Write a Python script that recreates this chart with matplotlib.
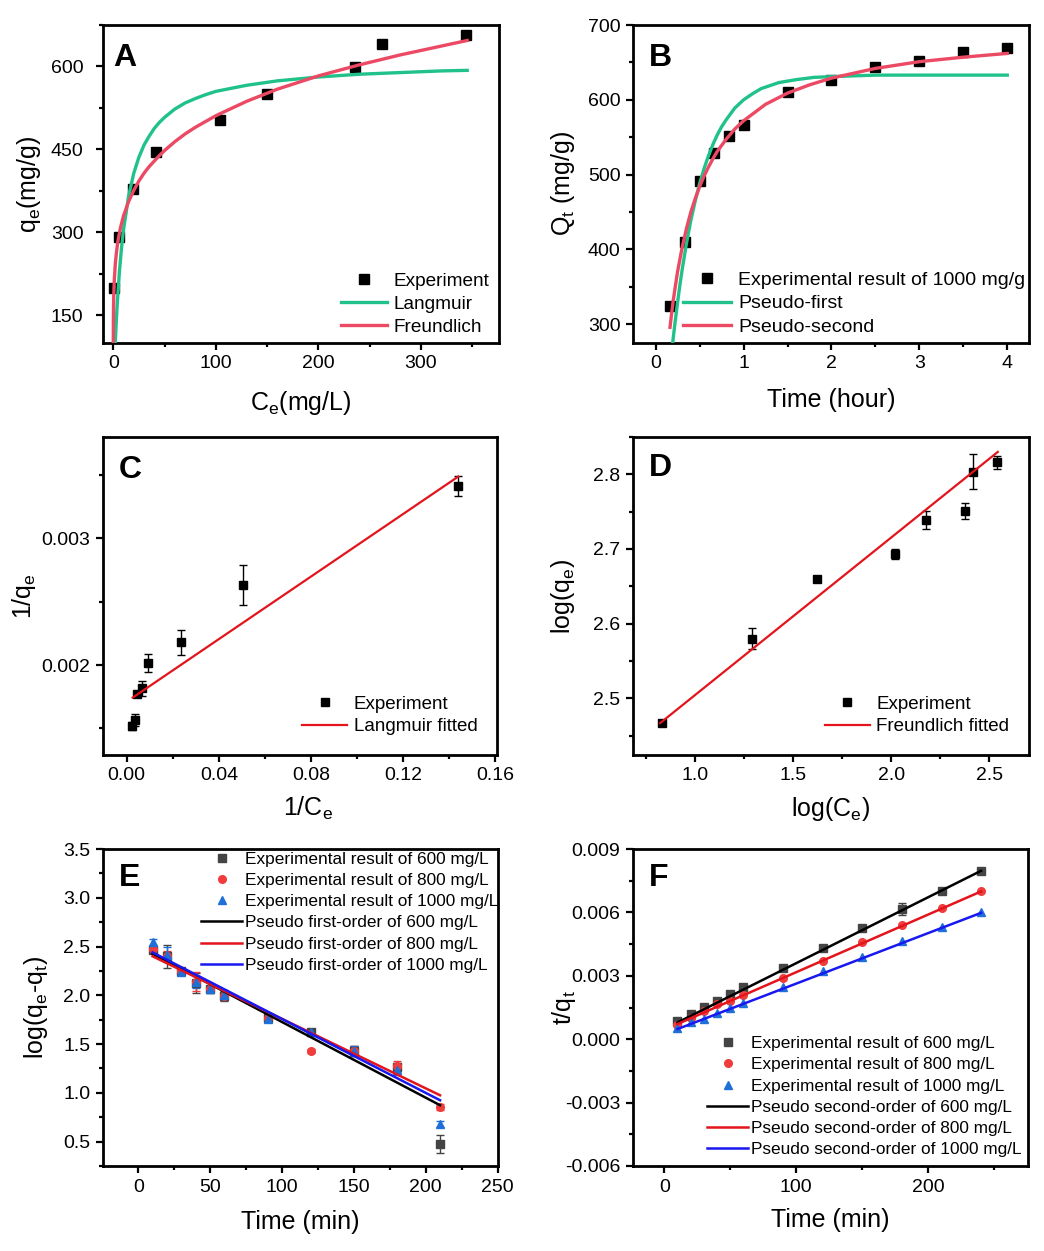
import matplotlib
matplotlib.use('Agg')
import matplotlib.pyplot as plt
from matplotlib.ticker import MultipleLocator, FormatStrFormatter

plt.rcParams['font.family'] = ['Liberation Sans', 'DejaVu Sans']
plt.rcParams['mathtext.fontset'] = 'custom'
plt.rcParams['mathtext.rm'] = 'Liberation Sans'
plt.rcParams['mathtext.it'] = 'Liberation Sans'

# ---- A: isotherm ----
A_ce = [0.5, 6, 19, 42, 104, 150, 236, 262, 344]
A_qe = [199, 292, 379, 446, 503, 551, 599, 640, 657]
A_freund_ce = [0.02, 0.1, 0.3, 0.5, 1, 2, 3, 4, 5, 7, 10, 15, 20, 25, 30, 35,
               45, 50, 60, 70, 80, 100, 130, 160, 200, 240, 280, 320, 345]
A_freund = [101, 138, 169, 187, 213, 243, 262, 277, 289, 308, 330, 356, 376,
            393, 407, 419, 439, 448, 464, 478, 490, 511, 537, 559, 583, 603,
            621, 637, 647]
A_lang_ce = [1.5, 2, 3, 4, 6, 8, 10, 15, 20, 25, 30, 35, 40, 45, 50, 60, 70,
             80, 90, 100, 130, 160, 200, 240, 280, 320, 345]
A_lang = [80, 102, 141, 174, 229, 271, 305, 366, 407, 436, 458, 474, 488, 499,
          508, 523, 534, 542, 549, 555, 566, 574, 581, 586, 589, 592, 593]

# ---- B: kinetics ----
B_t = [0.167, 0.333, 0.5, 0.667, 0.833, 1.0, 1.5, 2.0, 2.5, 3.0, 3.5, 4.0]
B_q = [324, 410, 491, 529, 551, 567, 610, 626, 644, 652, 664, 669]
B_first_t = [0.18, 0.2, 0.22, 0.25, 0.275, 0.3, 0.325, 0.35, 0.4, 0.45, 0.5,
             0.55, 0.6, 0.65, 0.7, 0.75, 0.8, 0.9, 1.0, 1.1, 1.2, 1.3, 1.4,
             1.6, 1.8, 2.0, 2.5, 3.0, 3.5, 4.0]
B_first = [261, 282, 302, 330, 352, 372, 390, 408, 439, 465, 488, 508, 525,
           540, 553, 564, 573, 589, 600, 608, 615, 619, 623, 627, 630, 631,
           633, 633, 633, 633]
B_second_t = [0.163, 0.18, 0.2, 0.22, 0.25, 0.3, 0.35, 0.4, 0.45, 0.5, 0.55,
              0.6, 0.65, 0.7, 0.75, 0.8, 0.9, 1.0, 1.25, 1.5, 1.75, 2.0, 2.5,
              3.0, 3.5, 4.0]
B_second = [296, 313, 332, 348, 371, 402, 428, 450, 468, 484, 498, 510, 521,
            531, 539, 547, 561, 572, 594, 609, 620, 629, 642, 651, 657, 662]

# ---- C: Langmuir linear ----
C_x = [0.0024, 0.0036, 0.0043, 0.0065, 0.0094, 0.0237, 0.0506, 0.144]
C_y = [0.00152, 0.001567, 0.001769, 0.001817, 0.002018, 0.002179, 0.00263, 0.003417]
C_err = [3.4e-5, 4.7e-5, 0, 5.8e-5, 7.1e-5, 1.0e-4, 1.57e-4, 7.9e-5]
C_fit_x = [0.0026, 0.144]
C_fit_y = [0.001743, 0.003488]

# ---- D: Freundlich linear ----
D_x = [0.833, 1.292, 1.62, 2.019, 2.177, 2.376, 2.418, 2.538]
D_y = [2.4667, 2.5795, 2.66, 2.6933, 2.739, 2.751, 2.8036, 2.816]
D_err = [0, 0.014, 0, 0.0067, 0.012, 0.0107, 0.0233, 0.009]
D_fit_x = [0.822, 2.543]
D_fit_y = [2.4667, 2.830]

# ---- E: pseudo first-order ----
E_t = [10, 20, 30, 40, 50, 60, 90, 120, 150, 180, 210]
E_600 = [2.467, 2.40, 2.247, 2.128, 2.06, 1.99, 1.77, 1.62, 1.43, 1.26, 0.477]
E_800 = [2.477, 2.40, 2.25, 2.14, 2.06, 1.99, 1.77, 1.43, 1.43, 1.28, 0.856]
E_1000 = [2.545, 2.417, 2.24, 2.14, 2.06, 2.0, 1.76, 1.62, 1.43, 1.23, 0.68]
E_600_err = [0.03, 0.12, 0.03, 0.10, 0.04, 0.05, 0.03, 0.03, 0.05, 0.05, 0.09]
E_800_err = [0.03, 0.05, 0.03, 0.10, 0.03, 0.04, 0.03, 0.02, 0.05, 0.05, 0.03]
E_1000_err = [0.03, 0.08, 0.03, 0.06, 0.03, 0.05, 0.03, 0.03, 0.05, 0.05, 0.03]
E_fit_t = [10, 210]
E_fit_600 = [2.425, 0.873]
E_fit_800 = [2.40, 0.975]
E_fit_1000 = [2.44, 0.924]

# ---- F: pseudo second-order ----
F_t = [10, 20, 30, 40, 50, 60, 90, 120, 150, 180, 210, 240]
F_600 = [0.000867, 0.001184, 0.001545, 0.001814, 0.002132, 0.002492, 0.003363,
         0.004311, 0.005258, 0.006158, 0.007025, 0.007973]
F_800 = [0.000677, 0.001023, 0.00134, 0.001658, 0.001814, 0.002099, 0.002919,
         0.003678, 0.004576, 0.0054, 0.00619, 0.006993]
F_1000 = [0.000521, 0.00082, 0.000978, 0.00126, 0.001497, 0.001734, 0.002478,
          0.003236, 0.003899, 0.004657, 0.00532, 0.00603]
F_600_err = [0, 0, 0, 0, 0, 0, 0, 0, 0, 0.00027, 0, 0]
F_fit_t = [10, 240]
F_fit_600 = [0.00079, 0.00797]
F_fit_800 = [0.000717, 0.006993]
F_fit_1000 = [0.00048, 0.00598]

GREEN = '#20c28a'
PINK = '#ec4a64'
RED = '#e3141c'
BLUE = '#1818f0'

W, H = 1044, 1251
fig = plt.figure(figsize=(W / 100, H / 100), dpi=100)


def make_axes(l, t, r, b):
    return fig.add_axes([l / W, 1 - b / H, (r - l) / W, (b - t) / H])


def style(ax, letter, lx=0.04, ly=0.945, ypad=4):
    for s in ax.spines.values():
        s.set_linewidth(2.0)
    ax.tick_params(which='both', direction='out', width=1.6, labelsize=14,
                   top=False, right=False)
    ax.tick_params(which='major', length=5)
    ax.tick_params(which='minor', length=3)
    ax.tick_params(axis='y', pad=ypad)
    ax.tick_params(axis='x', pad=4)
    ax.text(lx, ly, letter, transform=ax.transAxes, fontsize=23,
            fontweight='bold', va='top', ha='left')


def legend(ax, handles, labels, fs, anchor, hl=2.4):
    ax.legend(handles, labels, frameon=False, fontsize=fs, loc='lower right',
              bbox_to_anchor=anchor, handlelength=hl, handletextpad=0.35,
              labelspacing=0.3, borderaxespad=0.0, borderpad=0.2, numpoints=1)


# A
ax = make_axes(103, 25, 499, 343)
h0, = ax.plot(A_ce, A_qe, 's', color='black', ms=7.5, zorder=2)
h1, = ax.plot(A_lang_ce, A_lang, color=GREEN, lw=2.4, zorder=3)
h2, = ax.plot(A_freund_ce, A_freund, color=PINK, lw=2.4, zorder=4)
ax.set_xlim(-10, 376)
ax.set_ylim(100, 675)
ax.xaxis.set_major_locator(MultipleLocator(100))
ax.xaxis.set_minor_locator(MultipleLocator(50))
ax.yaxis.set_major_locator(MultipleLocator(150))
ax.yaxis.set_minor_locator(MultipleLocator(75))
style(ax, 'A', lx=0.027, ly=0.943, ypad=9)
ax.set_xlabel(r'C$_\mathrm{e}$(mg/L)', fontsize=18)
ax.set_ylabel(r'q$_\mathrm{e}$(mg/g)', fontsize=18)
ax.xaxis.set_label_coords(0.5, -0.145)
ax.yaxis.set_label_coords(-0.152, 0.5)
legend(ax, [h0, h1, h2], ['Experiment', 'Langmuir', 'Freundlich'], 13.7, (0.985, 0.01))

# B
ax = make_axes(633, 25, 1029, 343)
h0, = ax.plot(B_t, B_q, 's', color='black', ms=7.5, zorder=2)
h1, = ax.plot(B_first_t, B_first, color=GREEN, lw=2.4, zorder=3)
h2, = ax.plot(B_second_t, B_second, color=PINK, lw=2.4, zorder=4)
ax.set_xlim(-0.258, 4.247)
ax.set_ylim(275, 700)
ax.xaxis.set_major_locator(MultipleLocator(1))
ax.xaxis.set_minor_locator(MultipleLocator(0.5))
ax.yaxis.set_major_locator(MultipleLocator(100))
ax.yaxis.set_minor_locator(MultipleLocator(50))
style(ax, 'B', ly=0.943)
ax.set_xlabel('Time (hour)', fontsize=18)
ax.set_ylabel(r'Q$_\mathrm{t}$ (mg/g)', fontsize=18)
ax.xaxis.set_label_coords(0.5, -0.14)
ax.yaxis.set_label_coords(-0.141, 0.5)
legend(ax, [h0, h1, h2], ['Experimental result of 1000 mg/g', 'Pseudo-first',
                          'Pseudo-second'], 14, (1.0, 0.01), hl=2.5)

# C
ax = make_axes(103, 437, 497, 755)
ax.errorbar(C_x, C_y, yerr=C_err, fmt='none', ecolor='black', elinewidth=1,
            capsize=3, capthick=1, zorder=1)
h0, = ax.plot(C_x, C_y, 's', color='black', ms=6, zorder=2)
h1, = ax.plot(C_fit_x, C_fit_y, color=RED, lw=1.6, zorder=3)
ax.set_xlim(-0.0103, 0.1608)
ax.set_ylim(0.00129, 0.0038)
ax.xaxis.set_major_locator(MultipleLocator(0.04))
ax.xaxis.set_minor_locator(MultipleLocator(0.02))
ax.yaxis.set_major_locator(MultipleLocator(0.001))
ax.yaxis.set_minor_locator(MultipleLocator(0.0005))
ax.xaxis.set_major_formatter(FormatStrFormatter('%.2f'))
ax.yaxis.set_major_formatter(FormatStrFormatter('%.3f'))
style(ax, 'C', ly=0.943)
ax.set_xlabel(r'1/C$_\mathrm{e}$', fontsize=18)
ax.set_ylabel(r'1/q$_\mathrm{e}$', fontsize=18)
ax.xaxis.set_label_coords(0.52, -0.125)
ax.yaxis.set_label_coords(-0.164, 0.5)
legend(ax, [h0, h1], ['Experiment', 'Langmuir fitted'], 13.5, (0.96, 0.05))

# D
ax = make_axes(633, 437, 1029, 755)
ax.errorbar(D_x, D_y, yerr=D_err, fmt='none', ecolor='black', elinewidth=1,
            capsize=3, capthick=1, zorder=1)
h0, = ax.plot(D_x, D_y, 's', color='black', ms=6, zorder=2)
h1, = ax.plot(D_fit_x, D_fit_y, color=RED, lw=1.6, zorder=3)
ax.set_xlim(0.684, 2.702)
ax.set_ylim(2.424, 2.85)
ax.xaxis.set_major_locator(MultipleLocator(0.5))
ax.xaxis.set_minor_locator(MultipleLocator(0.25))
ax.yaxis.set_major_locator(MultipleLocator(0.1))
ax.yaxis.set_minor_locator(MultipleLocator(0.05))
style(ax, 'D', ly=0.95)
ax.set_xlabel(r'log(C$_\mathrm{e}$)', fontsize=18)
ax.set_ylabel(r'log(q$_\mathrm{e}$)', fontsize=18)
ax.xaxis.set_label_coords(0.5, -0.125)
ax.yaxis.set_label_coords(-0.141, 0.5)
legend(ax, [h0, h1], ['Experiment', 'Freundlich fitted'], 13.5, (0.96, 0.05))

# E
ax = make_axes(103, 849, 498, 1166)
mk = []
for ys, err, m, c in [(E_600, E_600_err, 's', '#444444'),
                      (E_800, E_800_err, 'o', '#f03c3c'),
                      (E_1000, E_1000_err, '^', '#1f6fd8')]:
    ax.errorbar(E_t, ys, yerr=err, fmt='none', ecolor=c, elinewidth=1,
                capsize=3, capthick=1, zorder=1)
    h, = ax.plot(E_t, ys, m, color=c, ms=5.5, zorder=2)
    mk.append(h)
l1, = ax.plot(E_fit_t, E_fit_600, color='black', lw=1.8, zorder=3)
l2, = ax.plot(E_fit_t, E_fit_800, color=RED, lw=1.8, zorder=3)
l3, = ax.plot(E_fit_t, E_fit_1000, color=BLUE, lw=1.8, zorder=3)
ax.set_xlim(-24.5, 250.3)
ax.set_ylim(0.25, 3.5)
ax.xaxis.set_major_locator(MultipleLocator(50))
ax.xaxis.set_minor_locator(MultipleLocator(25))
ax.yaxis.set_major_locator(MultipleLocator(0.5))
ax.yaxis.set_minor_locator(MultipleLocator(0.25))
style(ax, 'E', ly=0.955)
ax.set_xlabel('Time (min)', fontsize=18)
ax.set_ylabel(r'log(q$_\mathrm{e}$-q$_\mathrm{t}$)', fontsize=18)
ax.xaxis.set_label_coords(0.5, -0.138)
ax.yaxis.set_label_coords(-0.134, 0.5)
ax.legend(mk + [l1, l2, l3],
          ['Experimental result of 600 mg/L', 'Experimental result of 800 mg/L',
           'Experimental result of 1000 mg/L', 'Pseudo first-order of 600 mg/L',
           'Pseudo first-order of 800 mg/L', 'Pseudo first-order of 1000 mg/L'],
          frameon=False, fontsize=12.4, loc='upper right', bbox_to_anchor=(1.007, 1.0),
          handlelength=2.4, handletextpad=0.15, labelspacing=0.36,
          borderaxespad=0.0, borderpad=0.15, numpoints=1)

# F
ax = make_axes(633, 849, 1028, 1166)
mk = []
for ys, m, c in [(F_600, 's', '#444444'), (F_800, 'o', '#f03c3c'),
                 (F_1000, '^', '#1f6fd8')]:
    h, = ax.plot(F_t, ys, m, color=c, ms=5.5, zorder=2)
    mk.append(h)
ax.errorbar(F_t, F_600, yerr=F_600_err, fmt='none', ecolor='#444444',
            elinewidth=1, capsize=3, capthick=1, zorder=1)
l1, = ax.plot(F_fit_t, F_fit_600, color='black', lw=1.8, zorder=3)
l2, = ax.plot(F_fit_t, F_fit_800, color=RED, lw=1.8, zorder=3)
l3, = ax.plot(F_fit_t, F_fit_1000, color=BLUE, lw=1.8, zorder=3)
ax.set_xlim(-23.7, 275.5)
ax.set_ylim(-0.006, 0.009)
ax.xaxis.set_major_locator(MultipleLocator(100))
ax.xaxis.set_minor_locator(MultipleLocator(50))
ax.yaxis.set_major_locator(MultipleLocator(0.003))
ax.yaxis.set_minor_locator(MultipleLocator(0.0015))
ax.yaxis.set_major_formatter(FormatStrFormatter('%.3f'))
style(ax, 'F', ly=0.955)
ax.set_xlabel('Time (min)', fontsize=18)
ax.set_ylabel(r't/q$_\mathrm{t}$', fontsize=18)
ax.xaxis.set_label_coords(0.5, -0.132)
ax.yaxis.set_label_coords(-0.139, 0.5)
ax.legend(mk + [l1, l2, l3],
          ['Experimental result of 600 mg/L', 'Experimental result of 800 mg/L',
           'Experimental result of 1000 mg/L', 'Pseudo second-order of 600 mg/L',
           'Pseudo second-order of 800 mg/L', 'Pseudo second-order of 1000 mg/L'],
          frameon=False, fontsize=12.4, loc='lower right', bbox_to_anchor=(0.99, 0.019),
          handlelength=2.4, handletextpad=0.15, labelspacing=0.36,
          borderaxespad=0.0, borderpad=0.15, numpoints=1)

fig.savefig('out.png', dpi=100)
